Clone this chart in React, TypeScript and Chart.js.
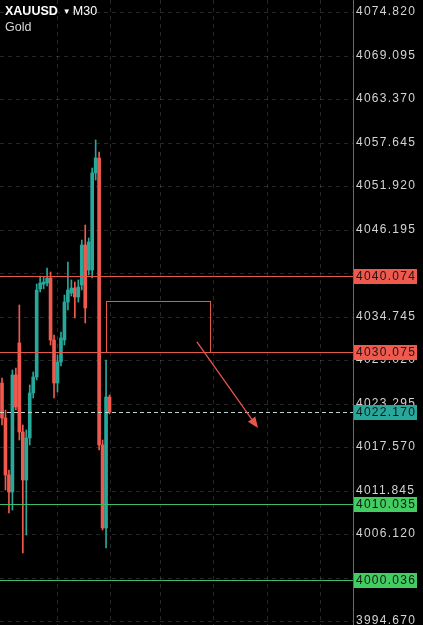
import React, { useEffect, useRef } from 'react';
import { Chart, registerables } from 'chart.js';

Chart.register(...registerables);

// ---- data ----
const candleIndex = [0, 1, 2, 3, 4, 5, 6, 7, 8, 9, 10, 11, 12, 13, 14, 15, 16, 17, 18, 19, 20, 21, 22, 23, 24, 25, 26, 27, 28, 29, 30, 31];
const opens = [4026.0, 4021.4, 4013.9, 4011.66, 4027.06, 4031.27, 4019.56, 4013.24, 4018.77, 4024.69, 4026.79, 4038.37, 4039.0, 4039.16, 4039.82, 4031.66, 4026.0, 4028.77, 4031.66, 4036.66, 4037.85, 4038.5, 4037.32, 4038.9, 4044.16, 4040.87, 4040.87, 4053.64, 4055.61, 4017.85, 4006.93, 4024.16];
const highs = [4026.66, 4022.45, 4014.56, 4027.71, 4027.98, 4036.27, 4020.48, 4019.82, 4025.74, 4027.45, 4039.03, 4040.08, 4040.0, 4041.14, 4040.61, 4032.32, 4029.69, 4032.71, 4037.58, 4041.93, 4039.56, 4039.29, 4039.56, 4044.82, 4046.79, 4045.08, 4054.29, 4057.98, 4056.4, 4018.5, 4029.03, 4024.43];
const lows = [4020.48, 4011.93, 4008.9, 4009.29, 4022.45, 4018.5, 4003.64, 4006.0, 4017.85, 4024.03, 4026.4, 4037.98, 4038.4, 4038.77, 4031.0, 4024.03, 4024.82, 4028.24, 4031.0, 4035.61, 4037.45, 4034.56, 4036.66, 4038.24, 4033.9, 4040.21, 4039.82, 4052.71, 4017.19, 4006.66, 4004.29, 4021.93];
const closes = [4021.4, 4013.9, 4011.66, 4027.06, 4022.85, 4019.56, 4013.24, 4018.77, 4024.69, 4026.79, 4038.24, 4039.16, 4039.3, 4039.82, 4031.66, 4026.0, 4028.77, 4031.93, 4036.66, 4038.24, 4038.5, 4037.32, 4038.64, 4044.16, 4035.87, 4044.56, 4053.64, 4055.61, 4017.85, 4006.93, 4024.16, 4022.17];

const priceTicks = [4074.82, 4069.095, 4063.37, 4057.645, 4051.92, 4046.195, 4040.47, 4034.745, 4029.02, 4023.295, 4017.57, 4011.845, 4006.12, 4000.395, 3994.67];
const timeGrid = [15.86, 31.14, 45.56, 60.84, 76.41, 91.7];
const resistanceLevels = [4040.074, 4030.075];
const supportLevels = [4010.035, 4000.036];
const lastPrice = 4022.17;
const zoneX = [30, 60];
const zoneY = [4036.79, 4030.075];
const arrowX = [56.2, 73.8];
const arrowY = [4031.4, 4020.08];
const symbolText = 'XAUUSD';
const timeframeText = 'M30';
const nameText = 'Gold';

const X_MIN = -0.577;
const X_MAX = 101.2;
const Y_MIN = 3994.16;
const Y_MAX = 4076.4;

const TEAL = '#27a89b';
const RED = '#f0594e';
const LINE_RED = '#e5564b';
const LINE_GREEN = '#3dbd69';
const BOX_GREEN = '#43cc62';
const FONT = '"Liberation Sans", Arial, sans-serif';

const overlay = {
  id: 'overlay',
  beforeDraw(chart: any) {
    const { ctx, width, height } = chart;
    ctx.save();
    ctx.fillStyle = '#000';
    ctx.fillRect(0, 0, width, height);
    ctx.restore();
  },
  beforeDatasetsDraw(chart: any) {
    const { ctx, chartArea, scales } = chart;
    const { left, right, top, bottom } = chartArea;
    const x = scales.x, y = scales.y;
    ctx.save();
    ctx.strokeStyle = 'rgba(255,255,255,0.15)';
    ctx.lineWidth = 1;
    ctx.setLineDash([4, 4]);
    for (const v of priceTicks) {
      const py = Math.round(y.getPixelForValue(v)) + 0.5;
      ctx.beginPath();
      ctx.moveTo(left, py);
      ctx.lineTo(right, py);
      ctx.stroke();
    }
    for (const v of timeGrid) {
      const px = Math.round(x.getPixelForValue(v)) + 0.5;
      ctx.beginPath();
      ctx.moveTo(px, top);
      ctx.lineTo(px, bottom);
      ctx.stroke();
    }
    ctx.restore();
  },
  afterDatasetsDraw(chart: any) {
    const { ctx, chartArea, scales } = chart;
    const { left, right } = chartArea;
    const x = scales.x, y = scales.y;
    ctx.save();
    ctx.lineWidth = 1;
    for (const v of resistanceLevels) {
      const py = Math.round(y.getPixelForValue(v)) + 0.5;
      ctx.strokeStyle = LINE_RED;
      ctx.beginPath();
      ctx.moveTo(left, py);
      ctx.lineTo(right, py);
      ctx.stroke();
    }
    for (const v of supportLevels) {
      const py = Math.round(y.getPixelForValue(v)) + 0.5;
      ctx.strokeStyle = LINE_GREEN;
      ctx.beginPath();
      ctx.moveTo(left, py);
      ctx.lineTo(right, py);
      ctx.stroke();
    }
    {
      const py = Math.round(y.getPixelForValue(lastPrice)) + 0.5;
      ctx.strokeStyle = '#bcd6d2';
      ctx.setLineDash([4, 3]);
      ctx.beginPath();
      ctx.moveTo(left, py);
      ctx.lineTo(right, py);
      ctx.stroke();
      ctx.setLineDash([]);
    }
    const rx1 = Math.round(x.getPixelForValue(zoneX[0])) + 0.5;
    const rx2 = Math.round(x.getPixelForValue(zoneX[1])) + 0.5;
    const ry1 = Math.round(y.getPixelForValue(zoneY[0])) + 0.5;
    const ry2 = Math.round(y.getPixelForValue(zoneY[1])) + 0.5;
    ctx.strokeStyle = LINE_RED;
    ctx.strokeRect(rx1, ry1, rx2 - rx1, ry2 - ry1);
    const ax1 = x.getPixelForValue(arrowX[0]);
    const ay1 = y.getPixelForValue(arrowY[0]);
    const ax2 = x.getPixelForValue(arrowX[1]);
    const ay2 = y.getPixelForValue(arrowY[1]);
    const ang = Math.atan2(ay2 - ay1, ax2 - ax1);
    const headLen = 11, headW = 4.5;
    ctx.lineWidth = 1.3;
    ctx.beginPath();
    ctx.moveTo(ax1, ay1);
    ctx.lineTo(ax2 - Math.cos(ang) * headLen * 0.8, ay2 - Math.sin(ang) * headLen * 0.8);
    ctx.stroke();
    ctx.fillStyle = LINE_RED;
    ctx.beginPath();
    ctx.moveTo(ax2, ay2);
    ctx.lineTo(ax2 - Math.cos(ang) * headLen - Math.sin(ang) * headW, ay2 - Math.sin(ang) * headLen + Math.cos(ang) * headW);
    ctx.lineTo(ax2 - Math.cos(ang) * headLen + Math.sin(ang) * headW, ay2 - Math.sin(ang) * headLen - Math.cos(ang) * headW);
    ctx.closePath();
    ctx.fill();
    ctx.restore();
  },
  afterDraw(chart: any) {
    const { ctx, chartArea, scales } = chart;
    const { right, top, bottom } = chartArea;
    const y = scales.y;
    ctx.save();
    ctx.strokeStyle = '#6a6a6a';
    ctx.lineWidth = 1;
    ctx.beginPath();
    ctx.moveTo(right + 0.5, top);
    ctx.lineTo(right + 0.5, bottom);
    ctx.stroke();
    ctx.font = `12px ${FONT}`;
    (ctx as any).letterSpacing = '1.25px';
    ctx.textBaseline = 'middle';
    ctx.textAlign = 'left';
    ctx.fillStyle = '#d4d4d4';
    const boxed = [...resistanceLevels, ...supportLevels, lastPrice].map(v => y.getPixelForValue(v));
    for (const v of priceTicks) {
      const py = y.getPixelForValue(v);
      if (boxed.some(b => Math.abs(b - py) < 5)) continue;
      ctx.fillText(v.toFixed(3), right + 3, py);
    }
    const box = (v: number, bg: string) => {
      const py = y.getPixelForValue(v);
      ctx.fillStyle = bg;
      ctx.fillRect(right + 1, Math.round(py) - 7, 63, 15);
      ctx.fillStyle = '#151515';
      ctx.fillText(v.toFixed(3), right + 3, py + 0.5);
    };
    resistanceLevels.forEach(v => box(v, RED));
    supportLevels.forEach(v => box(v, BOX_GREEN));
    box(lastPrice, TEAL);
    (ctx as any).letterSpacing = '0px';
    ctx.textBaseline = 'alphabetic';
    ctx.fillStyle = '#ffffff';
    ctx.font = `bold 12.5px ${FONT}`;
    ctx.fillText(symbolText, 5, 14.5);
    const w1 = ctx.measureText(symbolText).width;
    ctx.font = `8px ${FONT}`;
    ctx.fillText('▼', 5 + w1 + 5, 13.5);
    ctx.font = `12.5px ${FONT}`;
    ctx.fillText(timeframeText, 5 + w1 + 15, 14.5);
    ctx.fillStyle = '#d8d8d8';
    ctx.fillText(nameText, 5, 31);
    ctx.restore();
  },
};

export default function App() {
  const ref = useRef<HTMLCanvasElement | null>(null);
  useEffect(() => {
    if (!ref.current) return;
    const colors = candleIndex.map((_, k) => (closes[k] >= opens[k] ? TEAL : RED));
    const wickData = candleIndex.map((i, k) => ({ x: i, y: [lows[k], highs[k]] }));
    const bodyData = candleIndex.map((i, k) => ({ x: i, y: [opens[k], closes[k]] }));
    const chart = new Chart(ref.current, {
      type: 'bar',
      data: {
        datasets: [
          { data: wickData as any, backgroundColor: colors, barThickness: 1, grouped: false, borderWidth: 0 } as any,
          { data: bodyData as any, backgroundColor: colors, barThickness: 3, grouped: false, borderWidth: 0, minBarLength: 1 } as any,
        ],
      },
      options: {
        animation: false,
        responsive: true,
        maintainAspectRatio: false,
        layout: { padding: 0 },
        plugins: { legend: { display: false }, tooltip: { enabled: false } },
        scales: {
          x: {
            type: 'linear',
            display: false,
            min: X_MIN,
            max: X_MAX,
            offset: false,
            grid: { display: false },
          },
          y: {
            type: 'linear',
            position: 'right',
            min: Y_MIN,
            max: Y_MAX,
            grid: { display: false, drawTicks: false },
            border: { display: false },
            ticks: { display: false },
            afterBuildTicks: (s: any) => {
              s.ticks = priceTicks.map(v => ({ value: v }));
            },
            afterFit: (s: any) => {
              s.width = 70;
            },
          },
        },
      } as any,
      plugins: [overlay],
    });
    return () => chart.destroy();
  }, []);
  return (
    <div style={{ position: 'fixed', left: 0, top: 0, width: 423, height: 625, background: '#000' }}>
      <canvas ref={ref} />
    </div>
  );
}
